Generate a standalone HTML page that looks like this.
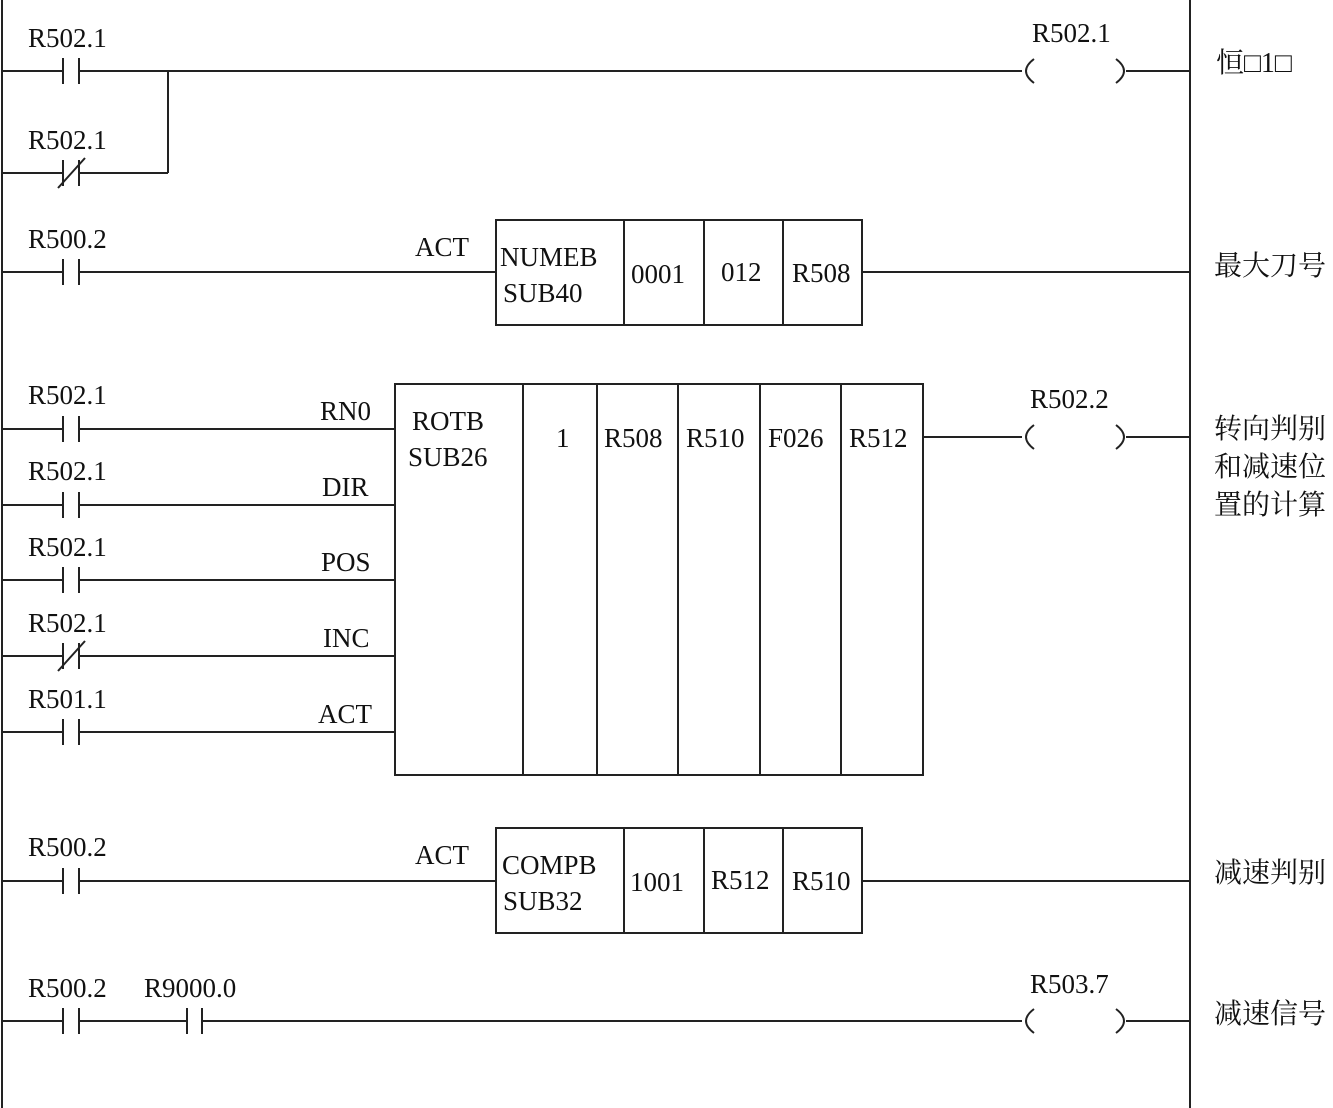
<!DOCTYPE html>
<html><head><meta charset="utf-8"><style>
html,body{margin:0;padding:0;background:#fff;}
svg{display:block;}
text{font-family:"Liberation Serif","Noto Serif CJK SC",serif;font-size:27px;fill:#111;}
.c{font-family:"Liberation Serif","Noto Serif CJK SC","Noto Sans CJK SC",serif;font-size:28px;}
</style></head><body>
<svg width="1333" height="1108" viewBox="0 0 1333 1108" xmlns="http://www.w3.org/2000/svg">
<g stroke="#222" stroke-width="2" fill="none">
<line x1="2" y1="0" x2="2" y2="1108"/>
<line x1="1190" y1="0" x2="1190" y2="1108"/>
<!-- rung1 -->
<line x1="2" y1="71" x2="63" y2="71"/><line x1="63" y1="58" x2="63" y2="84"/><line x1="79" y1="58" x2="79" y2="84"/>
<line x1="79" y1="71" x2="1022" y2="71"/>
<path d="M1034 59 Q1018 71 1034 83"/><path d="M1116 59 Q1132 71 1116 83"/>
<line x1="1126" y1="71" x2="1190" y2="71"/>
<line x1="2" y1="173" x2="63" y2="173"/><line x1="63" y1="160" x2="63" y2="186"/><line x1="79" y1="160" x2="79" y2="186"/>
<line x1="58" y1="188" x2="85" y2="158"/>
<line x1="79" y1="173" x2="168" y2="173"/><line x1="168" y1="173" x2="168" y2="71"/>
<!-- rung2 -->
<line x1="2" y1="272" x2="63" y2="272"/><line x1="63" y1="259" x2="63" y2="285"/><line x1="79" y1="259" x2="79" y2="285"/>
<line x1="79" y1="272" x2="496" y2="272"/>
<rect x="496" y="220" width="366" height="105"/>
<line x1="624" y1="220" x2="624" y2="325"/><line x1="704" y1="220" x2="704" y2="325"/><line x1="783" y1="220" x2="783" y2="325"/>
<line x1="862" y1="272" x2="1190" y2="272"/>
<!-- rung3 big box -->
<rect x="395" y="384" width="528" height="391"/>
<line x1="523" y1="384" x2="523" y2="775"/><line x1="597" y1="384" x2="597" y2="775"/><line x1="678" y1="384" x2="678" y2="775"/><line x1="760" y1="384" x2="760" y2="775"/><line x1="841" y1="384" x2="841" y2="775"/>
<line x1="923" y1="437" x2="1022" y2="437"/>
<path d="M1034 425 Q1018 437 1034 449"/><path d="M1116 425 Q1132 437 1116 449"/>
<line x1="1126" y1="437" x2="1190" y2="437"/>
<line x1="2" y1="429" x2="63" y2="429"/><line x1="63" y1="416" x2="63" y2="442"/><line x1="79" y1="416" x2="79" y2="442"/><line x1="79" y1="429" x2="395" y2="429"/>
<line x1="2" y1="505" x2="63" y2="505"/><line x1="63" y1="492" x2="63" y2="518"/><line x1="79" y1="492" x2="79" y2="518"/><line x1="79" y1="505" x2="395" y2="505"/>
<line x1="2" y1="580" x2="63" y2="580"/><line x1="63" y1="567" x2="63" y2="593"/><line x1="79" y1="567" x2="79" y2="593"/><line x1="79" y1="580" x2="395" y2="580"/>
<line x1="2" y1="656" x2="63" y2="656"/><line x1="63" y1="643" x2="63" y2="669"/><line x1="79" y1="643" x2="79" y2="669"/><line x1="58" y1="671" x2="85" y2="641"/><line x1="79" y1="656" x2="395" y2="656"/>
<line x1="2" y1="732" x2="63" y2="732"/><line x1="63" y1="719" x2="63" y2="745"/><line x1="79" y1="719" x2="79" y2="745"/><line x1="79" y1="732" x2="395" y2="732"/>
<!-- rung4 -->
<line x1="2" y1="881" x2="63" y2="881"/><line x1="63" y1="868" x2="63" y2="894"/><line x1="79" y1="868" x2="79" y2="894"/>
<line x1="79" y1="881" x2="496" y2="881"/>
<rect x="496" y="828" width="366" height="105"/>
<line x1="624" y1="828" x2="624" y2="933"/><line x1="704" y1="828" x2="704" y2="933"/><line x1="783" y1="828" x2="783" y2="933"/>
<line x1="862" y1="881" x2="1190" y2="881"/>
<!-- rung5 -->
<line x1="2" y1="1021" x2="63" y2="1021"/><line x1="63" y1="1008" x2="63" y2="1034"/><line x1="79" y1="1008" x2="79" y2="1034"/>
<line x1="79" y1="1021" x2="187" y2="1021"/><line x1="187" y1="1008" x2="187" y2="1034"/><line x1="202" y1="1008" x2="202" y2="1034"/>
<line x1="202" y1="1021" x2="1022" y2="1021"/>
<path d="M1034 1009 Q1018 1021 1034 1033"/><path d="M1116 1009 Q1132 1021 1116 1033"/>
<line x1="1126" y1="1021" x2="1190" y2="1021"/>
</g>
<text x="28" y="47">R502.1</text>
<text x="1032" y="42">R502.1</text>
<text class="c" x="1216" y="72">恒□1□</text>
<text x="28" y="149">R502.1</text>
<text x="28" y="248">R500.2</text>
<text x="415" y="256">ACT</text>
<text x="500" y="266">NUMEB</text>
<text x="503" y="302">SUB40</text>
<text x="631" y="283">0001</text>
<text x="721" y="281">012</text>
<text x="792" y="282">R508</text>
<text class="c" x="1214" y="275">最大刀号</text>
<text x="28" y="404">R502.1</text>
<text x="320" y="420">RN0</text>
<text x="412" y="430">ROTB</text>
<text x="408" y="466">SUB26</text>
<text x="556" y="447">1</text>
<text x="604" y="447">R508</text>
<text x="686" y="447">R510</text>
<text x="768" y="447">F026</text>
<text x="849" y="447">R512</text>
<text x="1030" y="408">R502.2</text>
<text class="c" x="1214" y="438">转向判别</text>
<text class="c" x="1214" y="476">和减速位</text>
<text class="c" x="1214" y="514">置的计算</text>
<text x="28" y="480">R502.1</text>
<text x="322" y="496">DIR</text>
<text x="28" y="556">R502.1</text>
<text x="321" y="571">POS</text>
<text x="28" y="632">R502.1</text>
<text x="323" y="647">INC</text>
<text x="28" y="708">R501.1</text>
<text x="318" y="723">ACT</text>
<text x="28" y="856">R500.2</text>
<text x="415" y="864">ACT</text>
<text x="502" y="874">COMPB</text>
<text x="503" y="910">SUB32</text>
<text x="630" y="891">1001</text>
<text x="711" y="889">R512</text>
<text x="792" y="890">R510</text>
<text class="c" x="1214" y="882">减速判别</text>
<text x="28" y="997">R500.2</text>
<text x="144" y="997">R9000.0</text>
<text x="1030" y="993">R503.7</text>
<text class="c" x="1214" y="1023">减速信号</text>
</svg>
</body></html>
